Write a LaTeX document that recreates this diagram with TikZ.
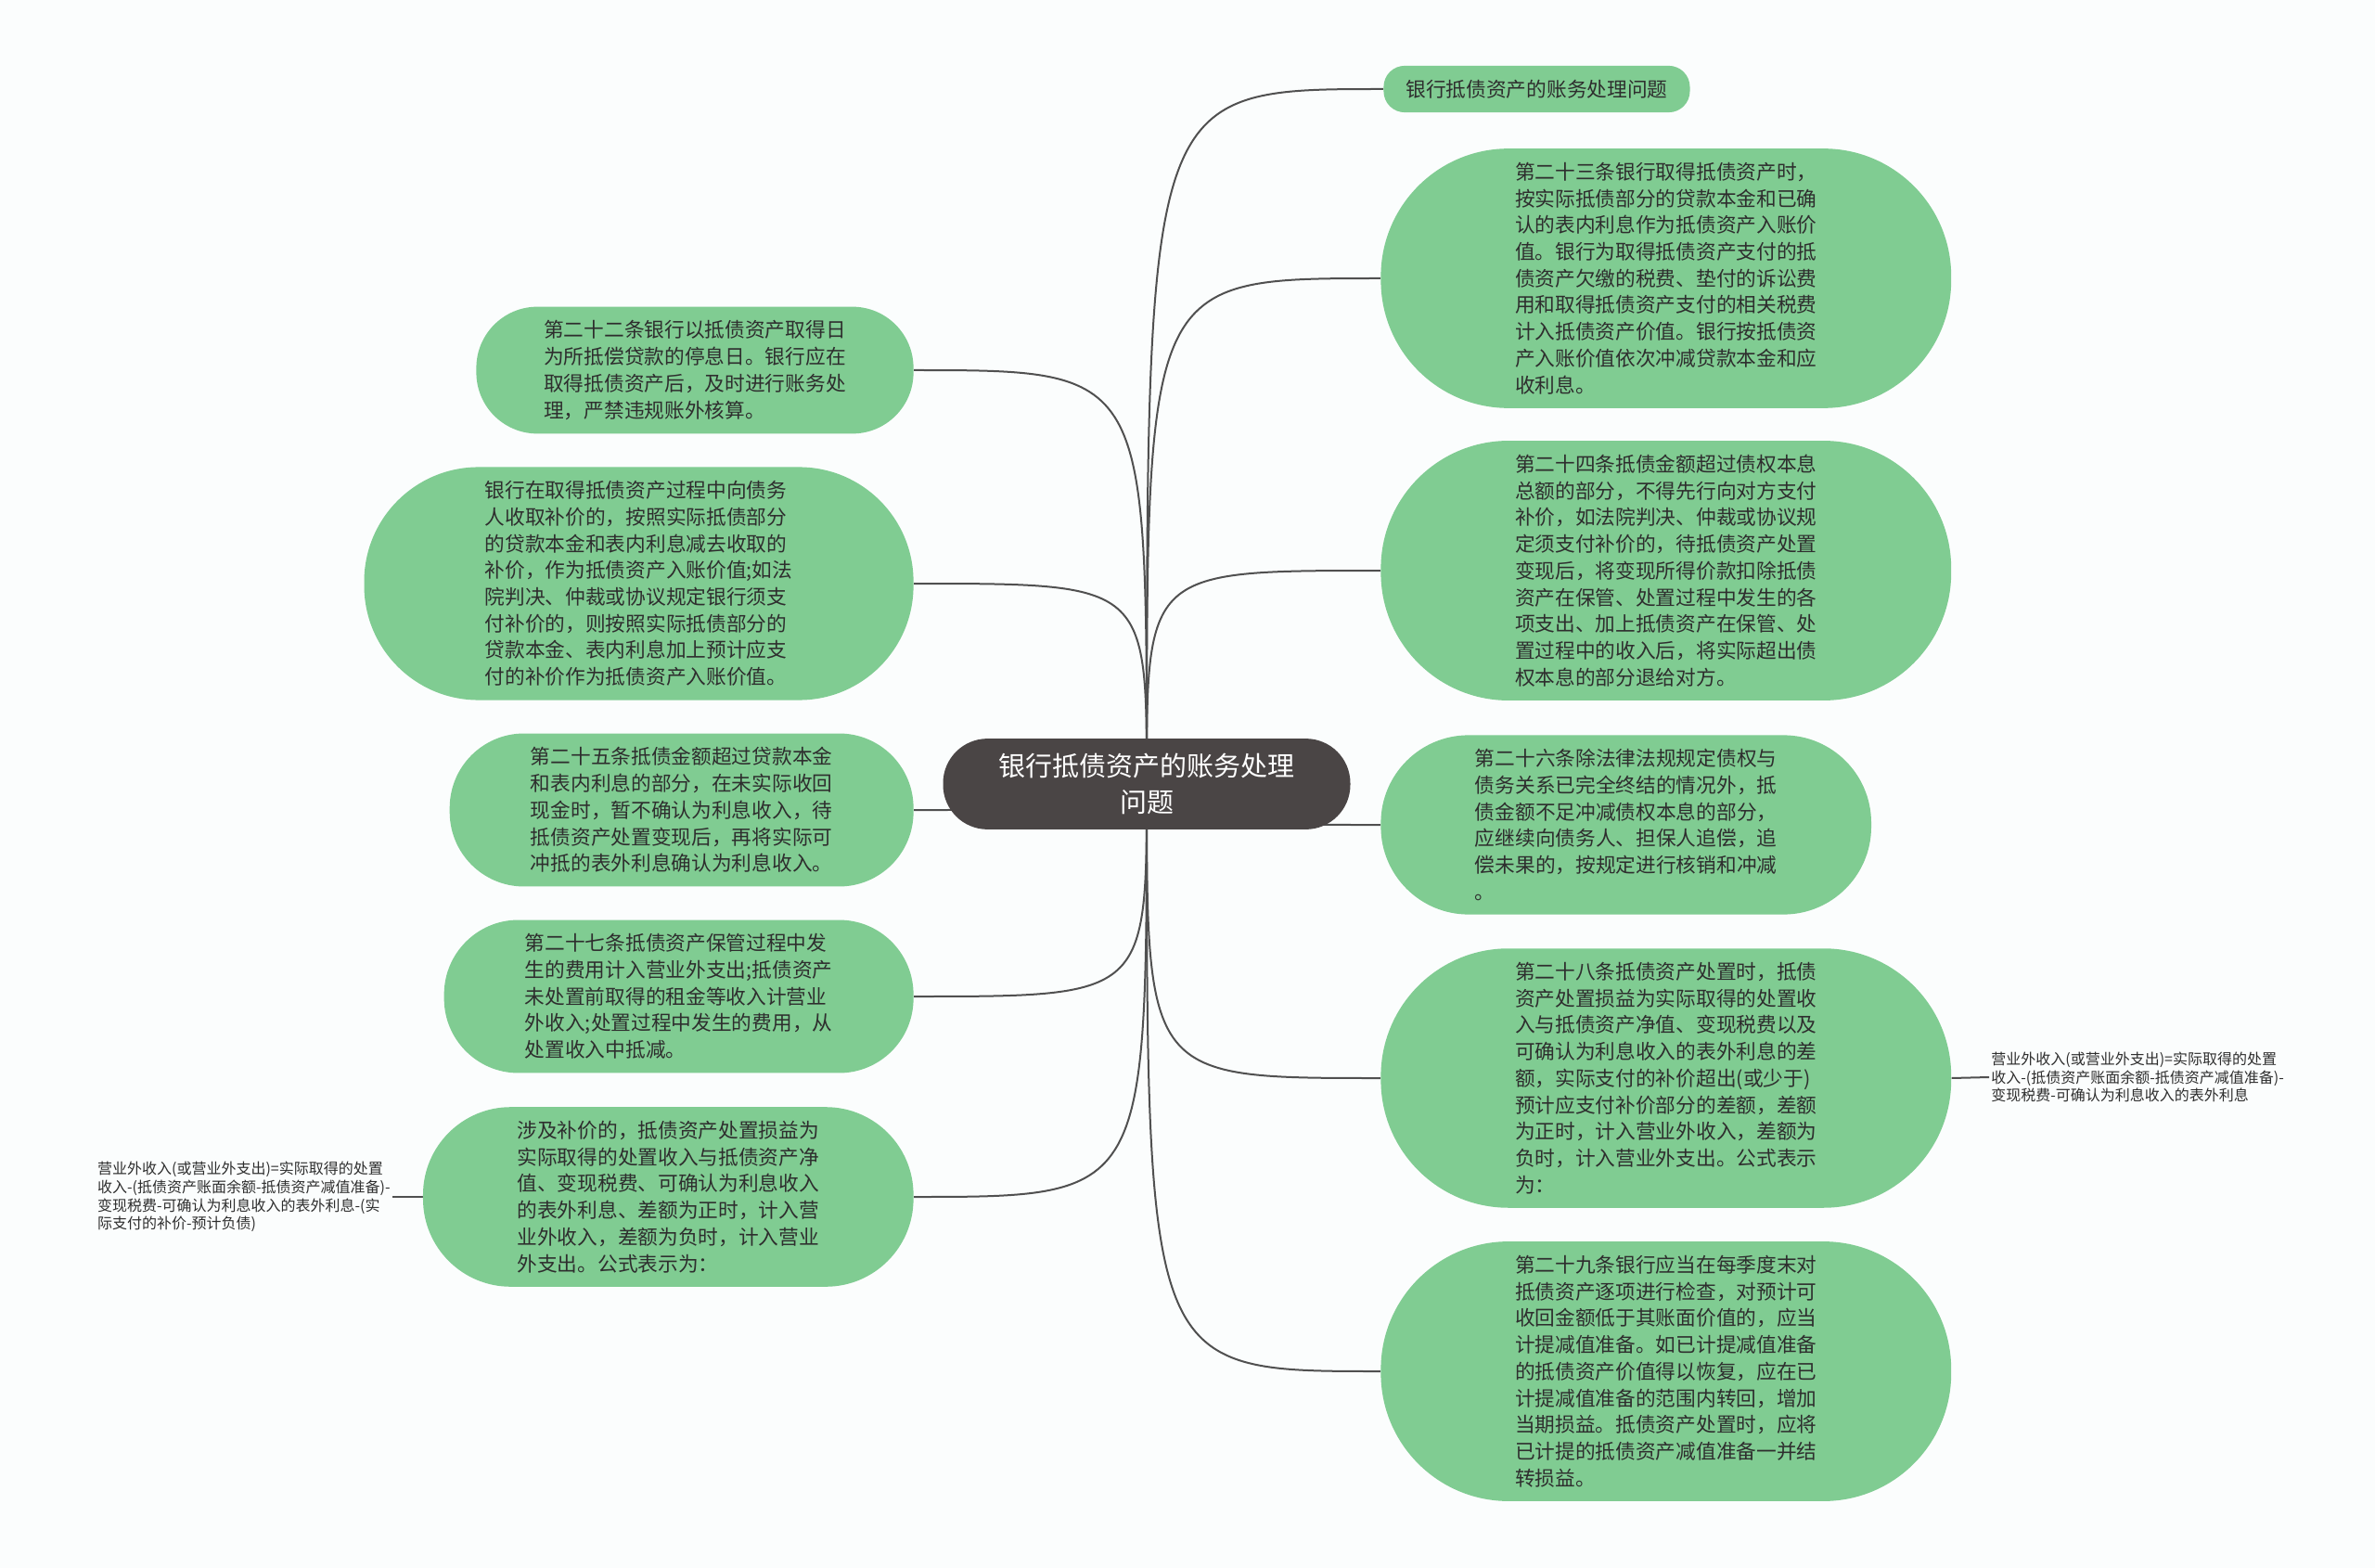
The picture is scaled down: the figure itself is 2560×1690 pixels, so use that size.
\documentclass[tikz,border=0pt]{standalone}
\usepackage{fontspec}
\setmainfont{Noto Sans CJK SC}
\usetikzlibrary{backgrounds}
\definecolor{leafgreen}{HTML}{80CC92}
\definecolor{rootgray}{HTML}{4A4545}
\definecolor{linkgray}{HTML}{505050}
\definecolor{inkdark}{HTML}{2E2E2E}
\definecolor{paper}{HTML}{FBFDFD}

\begin{document}
\begin{tikzpicture}[x=0.5pt,y=-0.5pt,
  central/.style={rectangle,rounded corners=24pt,fill=rootgray,text=white,align=center,
    font=\fontsize{14.5pt}{19.5pt}\selectfont,inner xsep=30pt,inner ysep=8pt},
  % #1 = number of text lines, sets the round ends
  topic/.style={rectangle,rounded corners={7.18pt*#1+4.2pt},inner xsep={7.18pt*#1+7.7pt},
    inner ysep=7.5pt,fill=leafgreen,text=inkdark,align=left,
    font=\fontsize{10.85pt}{14.35pt}\selectfont},
  note/.style={text=inkdark,align=left,font=\fontsize{8pt}{9.8pt}\selectfont,inner sep=1pt},
  link/.style={draw=linkgray,line width=1pt}]
  \useasboundingbox (0,0) rectangle (2560,1690);

  \node[central] (root) at (1236,845) {银行抵债资产的账务处理\\问题};

  % right side
  \node[topic=1,anchor=west,inner xsep=12pt] (title) at (1491,96) {银行抵债资产的账务处理问题};
  \node[topic=9,anchor=west] (art23) at (1488,300) {第二十三条银行取得抵债资产时，\\按实际抵债部分的贷款本金和已确\\认的表内利息作为抵债资产入账价\\值。银行为取得抵债资产支付的抵\\债资产欠缴的税费、垫付的诉讼费\\用和取得抵债资产支付的相关税费\\计入抵债资产价值。银行按抵债资\\产入账价值依次冲减贷款本金和应\\收利息。};
  \node[topic=9,anchor=west] (art24) at (1488,615) {第二十四条抵债金额超过债权本息\\总额的部分，不得先行向对方支付\\补价，如法院判决、仲裁或协议规\\定须支付补价的，待抵债资产处置\\变现后，将变现所得价款扣除抵债\\资产在保管、处置过程中发生的各\\项支出、加上抵债资产在保管、处\\置过程中的收入后，将实际超出债\\权本息的部分退给对方。};
  \node[topic=6,anchor=west] (art26) at (1488,889) {第二十六条除法律法规规定债权与\\债务关系已完全终结的情况外，抵\\债金额不足冲减债权本息的部分，\\应继续向债务人、担保人追偿，追\\偿未果的，按规定进行核销和冲减\\。};
  \node[topic=9,anchor=west] (art28) at (1488,1162) {第二十八条抵债资产处置时，抵债\\资产处置损益为实际取得的处置收\\入与抵债资产净值、变现税费以及\\可确认为利息收入的表外利息的差\\额，实际支付的补价超出(或少于)\\预计应支付补价部分的差额，差额\\为正时，计入营业外收入，差额为\\负时，计入营业外支出。公式表示\\为：};
  \node[topic=9,anchor=west] (art29) at (1488,1478) {第二十九条银行应当在每季度末对\\抵债资产逐项进行检查，对预计可\\收回金额低于其账面价值的，应当\\计提减值准备。如已计提减值准备\\的抵债资产价值得以恢复，应在已\\计提减值准备的范围内转回，增加\\当期损益。抵债资产处置时，应将\\已计提的抵债资产减值准备一并结\\转损益。};
  \node[note,anchor=west] (rnote) at (2144,1161) {营业外收入(或营业外支出)=实际取得的处置\\收入-(抵债资产账面余额-抵债资产减值准备)-\\变现税费-可确认为利息收入的表外利息};

  % left side
  \node[topic=4,anchor=east] (art22) at (985,399) {第二十二条银行以抵债资产取得日\\为所抵偿贷款的停息日。银行应在\\取得抵债资产后，及时进行账务处\\理，严禁违规账外核算。};
  \node[topic=8,anchor=east] (gain) at (985,629) {银行在取得抵债资产过程中向债务\\人收取补价的，按照实际抵债部分\\的贷款本金和表内利息减去收取的\\补价，作为抵债资产入账价值;如法\\院判决、仲裁或协议规定银行须支\\付补价的，则按照实际抵债部分的\\贷款本金、表内利息加上预计应支\\付的补价作为抵债资产入账价值。};
  \node[topic=5,anchor=east] (art25) at (985,873) {第二十五条抵债金额超过贷款本金\\和表内利息的部分，在未实际收回\\现金时，暂不确认为利息收入，待\\抵债资产处置变现后，再将实际可\\冲抵的表外利息确认为利息收入。};
  \node[topic=5,anchor=east] (art27) at (985,1074) {第二十七条抵债资产保管过程中发\\生的费用计入营业外支出;抵债资产\\未处置前取得的租金等收入计营业\\外收入;处置过程中发生的费用，从\\处置收入中抵减。};
  \node[topic=6,anchor=east] (swap) at (985,1290) {涉及补价的，抵债资产处置损益为\\实际取得的处置收入与抵债资产净\\值、变现税费、可确认为利息收入\\的表外利息、差额为正时，计入营\\业外收入，差额为负时，计入营业\\外支出。公式表示为：};
  \node[note,anchor=east] (lnote) at (423,1290) {营业外收入(或营业外支出)=实际取得的处置\\收入-(抵债资产账面余额-抵债资产减值准备)-\\变现税费-可确认为利息收入的表外利息-(实\\际支付的补价-预计负债)};

  \begin{scope}[on background layer]
    \fill[paper] (0,0) rectangle (2560,1690);
    % branches out of the centre
    \foreach \t in {title,art23,art24,art26,art28,art29}
      \draw[link] (root.center) .. controls (root.center |- \t.west) .. (\t.west);
    \foreach \t in {art22,gain,art25,art27,swap}
      \draw[link] (root.center) .. controls (root.center |- \t.east) .. (\t.east);
    % formula notes
    \draw[link] (art28.east) -- (rnote.west);
    \draw[link] (lnote.east) -- (swap.west);
  \end{scope}
\end{tikzpicture}
\end{document}
